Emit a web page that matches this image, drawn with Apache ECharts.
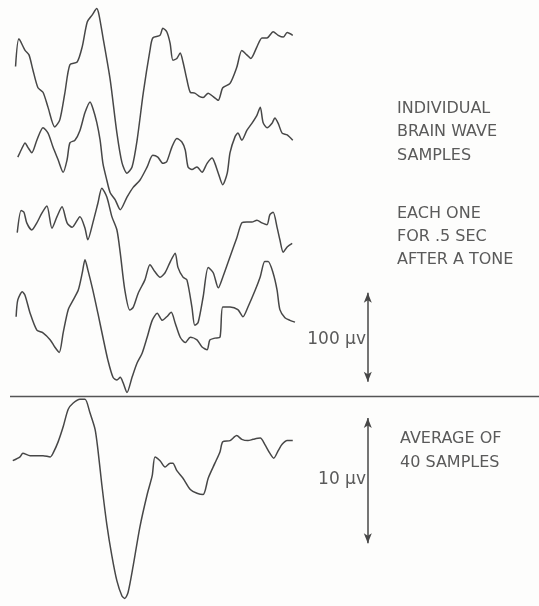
<!DOCTYPE html>
<html>
<head>
<meta charset="utf-8">
<script src="https://cdn.jsdelivr.net/npm/echarts@6/dist/echarts.min.js"></script>
<style>
  html, body { margin: 0; padding: 0; background: #fdfdfc; }
  #chart { width: 539px; height: 606px; }
</style>
</head>
<body>
<div id="chart"></div>
<script>
// time in ms after the tone, amplitude in µV
const sample1 = [[1,4],[7,35],[18,22],[25,17],[32,0],[41,-20],[50,-25],[59,-42],[71,-64],[80,-56],[89,-26],[98,6],[111,9],[120,26],[129,54],[138,62],[146,69],[150,62],[157,37],[170,-11],[182,-71],[191,-104],[200,-116],[209,-109],[218,-79],[229,-26],[241,22],[246,36],[259,39],[264,47],[271,43],[277,30],[282,11],[289,13],[295,19],[300,9],[307,-11],[313,-25],[321,-26],[330,-30],[336,-31],[345,-26],[354,-30],[363,-34],[371,-20],[384,-15],[396,3],[405,22],[414,17],[421,13],[432,26],[441,36],[450,36],[461,43],[470,39],[479,37],[486,42],[496,39]]
const sample2 = [[5,-8],[11,0],[18,8],[23,3],[30,-3],[39,11],[50,25],[59,19],[68,3],[77,-11],[86,-25],[93,-11],[98,8],[107,11],[116,22],[125,42],[134,54],[139,47],[146,31],[152,11],[157,-15],[164,-34],[170,-48],[179,-56],[188,-67],[200,-53],[211,-42],[223,-34],[236,-19],[246,-6],[255,-8],[264,-15],[271,-13],[280,3],[289,13],[298,9],[304,0],[309,-19],[316,-22],[325,-19],[334,-25],[343,-15],[352,-9],[357,-15],[363,-26],[371,-39],[379,-26],[384,-3],[393,15],[398,19],[405,11],[414,22],[423,30],[432,39],[438,48],[443,31],[450,25],[459,30],[464,36],[470,30],[477,19],[486,17],[496,11]]
const sample3 = [[4,-3],[11,22],[16,20],[21,8],[30,0],[39,8],[48,19],[57,27],[66,2],[75,15],[84,26],[93,8],[102,3],[116,15],[125,2],[130,-11],[139,8],[148,30],[155,47],[164,37],[173,15],[182,0],[188,-26],[196,-67],[205,-90],[211,-87],[220,-71],[232,-56],[241,-39],[250,-47],[259,-53],[268,-48],[277,-36],[286,-26],[291,-42],[300,-53],[307,-56],[316,-87],[321,-107],[327,-104],[336,-75],[345,-42],[354,-48],[363,-65],[371,-53],[384,-30],[396,-9],[405,8],[414,9],[423,9],[432,11],[441,8],[450,6],[455,17],[461,20],[468,3],[473,-11],[479,-25],[486,-19],[495,-15]]
const sample4 = [[2,-2],[5,17],[13,26],[18,22],[27,2],[39,-17],[50,-20],[63,-28],[71,-36],[79,-42],[86,-20],[95,6],[104,17],[113,28],[120,47],[125,62],[130,51],[139,28],[148,2],[157,-25],[166,-51],[175,-70],[182,-73],[188,-70],[193,-76],[200,-87],[209,-70],[218,-54],[227,-43],[236,-25],[245,-6],[254,2],[263,-6],[271,-2],[279,3],[286,-9],[295,-25],[304,-31],[313,-25],[325,-28],[334,-36],[343,-39],[348,-28],[357,-26],[366,-25],[371,9],[384,9],[398,6],[407,-2],[416,9],[429,28],[438,43],[446,60],[452,60],[461,47],[468,28],[473,6],[482,-3],[491,-6],[500,-8]]
const average40 = [[-4,-0.4],[9,-0.1],[14,0.2],[27,0],[39,0],[50,0],[63,-0.1],[68,0.2],[77,1.1],[86,2.3],[95,3.7],[104,4.2],[116,4.5],[125,4.5],[134,3.4],[143,2.1],[148,0.5],[155,-2.3],[164,-5.5],[173,-8.0],[182,-10.0],[191,-11.2],[196,-11.4],[202,-10.9],[211,-8.8],[223,-5.7],[236,-3.1],[245,-1.6],[250,-0.1],[259,-0.4],[268,-0.9],[277,-0.6],[282,-0.6],[289,-1.2],[300,-1.8],[313,-2.7],[325,-3.0],[336,-3.1],[345,-1.8],[357,-0.6],[366,0.3],[371,1.1],[384,1.2],[396,1.6],[405,1.3],[416,1.2],[425,1.3],[438,1.4],[446,0.9],[455,0.2],[462,-0.2],[470,0.4],[477,0.9],[486,1.2],[496,1.2]]

const samples = [sample1, sample2, sample3, sample4]
const scaleBarTime = 630
const scaleBarSingle = [-75, 25]   // 100 µV
const scaleBarAverage = [-7, 3]    // 10 µV

const ink = '#474747'
const textInk = '#5a5a5a'

const chart = echarts.init(document.getElementById('chart'))

const topGridTops = [7.7, 87.7, 167.7, 252.7]
const grids = topGridTops.map((top) => ({ left: 9.4, width: 358.4, top, height: 178 }))
grids.push({ left: 9.4, width: 358.4, top: 393, height: 217.6 })

const xAxes = grids.map((g, i) => ({ gridIndex: i, type: 'value', min: -10, max: 630, show: false }))
const yAxes = grids.map((g, i) => i < 4
  ? { gridIndex: i, type: 'value', min: -130, max: 70, show: false }
  : { gridIndex: i, type: 'value', min: -12, max: 5, show: false })

function traceSeries(data, i) {
  return {
    type: 'line',
    xAxisIndex: i,
    yAxisIndex: i,
    data,
    smooth: 0.25,
    symbol: 'none',
    clip: false,
    lineStyle: { color: ink, width: 1.5 },
  }
}

function scaleBar(range) {
  return {
    silent: true,
    symbol: ['arrow', 'arrow'],
    symbolSize: [6, 10],
    label: { show: false },
    lineStyle: { color: ink, width: 1.5, type: 'solid' },
    data: [[{ coord: [scaleBarTime, range[0]] }, { coord: [scaleBarTime, range[1]] }]],
  }
}

const series = samples.map(traceSeries)
series[3].markLine = scaleBar(scaleBarSingle)
const avg = traceSeries(average40, 4)
avg.markLine = scaleBar(scaleBarAverage)
series.push(avg)

const font = '"DejaVu Sans", sans-serif'
function note(text, x, y, align, size) {
  return {
    type: 'text',
    x, y,
    style: {
      text,
      fill: textInk,
      font: `${size}px ${font}`,
      textAlign: align,
      textVerticalAlign: 'middle',
    },
  }
}

chart.setOption({
  animation: false,
  backgroundColor: '#fdfdfc',
  grid: grids,
  xAxis: xAxes,
  yAxis: yAxes,
  series,
  graphic: [
    { type: 'line', shape: { x1: 10, y1: 396.5, x2: 539, y2: 396.5 }, style: { stroke: '#555', lineWidth: 1.5 } },
    note('INDIVIDUAL', 397, 109, 'left', 16),
    note('BRAIN WAVE', 397, 132, 'left', 16),
    note('SAMPLES', 397, 155.5, 'left', 16),
    note('EACH ONE', 397, 214, 'left', 16),
    note('FOR .5 SEC', 397, 237, 'left', 16),
    note('AFTER A TONE', 397, 260, 'left', 16),
    note('AVERAGE OF', 400, 439, 'left', 16),
    note('40 SAMPLES', 400, 462.5, 'left', 16),
    note('100 µv', 366, 340, 'right', 17),
    note('10 µv', 366, 480, 'right', 17),
  ],
})
</script>
</body>
</html>
